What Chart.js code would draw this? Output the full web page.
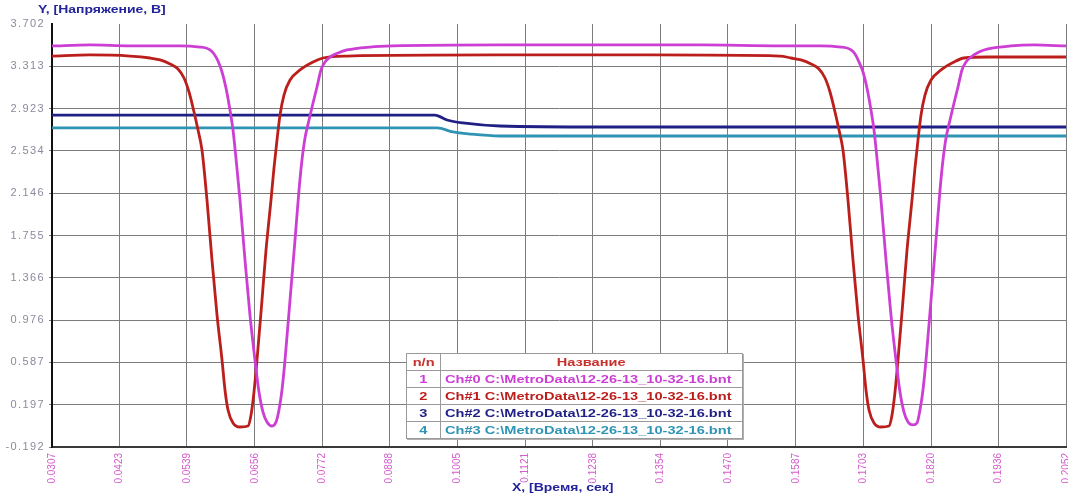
<!DOCTYPE html>
<html>
<head>
<meta charset="utf-8">
<script src="https://cdn.jsdelivr.net/npm/chart.js@4"></script>
<style>
    html, body { margin: 0; padding: 0; background: #fff; }
    #wrap { position: relative; width: 1068px; height: 497px; overflow: hidden; }
    #chart { position: absolute; left: 0; top: 0; }
    .axis-title {
        position: absolute;
        font: bold 11px "Liberation Sans", Arial, sans-serif;
        color: #23239a;
        white-space: nowrap;
        transform: scaleX(1.27);
        transform-origin: left center;
    }
    #legend {
        position: absolute; left: 406px; top: 353px; width: 337px;
        border-collapse: collapse; background: #fff;
        font: bold 11.5px "Liberation Sans", Arial, sans-serif;
        box-shadow: 1px 1px 0 #b0b0b0;
    }
    #legend td { border: 1px solid #9a9a9a; height: 16px; padding: 0; line-height: 16px; white-space: nowrap; }
    #legend td.num { width: 33px; text-align: center; }
    #legend td.name { padding-left: 4px; }
    #legend td.head { text-align: center; }
    #legend span { display: inline-block; transform: scaleX(1.27); }
    #legend td.name span { transform-origin: left center; }
</style>
</head>
<body>
<div id="wrap">
    <canvas id="chart" width="1068" height="497"></canvas>
    <div class="axis-title" style="left:38px; top:3px;">Y, [Напряжение, В]</div>
    <div class="axis-title" style="left:512px; top:481px;">X, [Время, сек]</div>
    <table id="legend"></table>
</div>
<script>
// tick labels
const xTickLabels = ['0.0307', '0.0423', '0.0539', '0.0656', '0.0772', '0.0888', '0.1005', '0.1121',
    '0.1238', '0.1354', '0.1470', '0.1587', '0.1703', '0.1820', '0.1936', '0.2052'];
const yTickLabels = ['-0.192', '0.197', '0.587', '0.976', '1.366', '1.755', '2.146', '2.534',
    '2.923', '3.313', '3.702'];

const seriesNames = [
    'Ch#0 C:\\MetroData\\12-26-13_10-32-16.bnt',
    'Ch#1 C:\\MetroData\\12-26-13_10-32-16.bnt',
    'Ch#2 C:\\MetroData\\12-26-13_10-32-16.bnt',
    'Ch#3 C:\\MetroData\\12-26-13_10-32-16.bnt'
];
const seriesColors = ['#cc3ed4', '#bb1f1c', '#1f1f86', '#2f94b4'];

// Ch#0 (magenta)
const ch0Time = [0.0307, 0.03724, 0.04412, 0.05273, 0.05617, 0.05720, 0.05789, 0.05858, 0.05927, 0.05996,
    0.06064, 0.06133, 0.06185, 0.06236, 0.06305, 0.06391, 0.06477, 0.06563, 0.06632, 0.06701,
    0.06770, 0.06856, 0.06925, 0.06976, 0.07028, 0.07080, 0.07166, 0.07252, 0.07321, 0.07372,
    0.07424, 0.07493, 0.07562, 0.07630, 0.07699, 0.07768, 0.07854, 0.07992, 0.08147, 0.08543,
    0.08938, 0.1078, 0.1250, 0.1422, 0.1560, 0.16304, 0.16648, 0.16751, 0.16820, 0.16889,
    0.16958, 0.17027, 0.17095, 0.17164, 0.17216, 0.17267, 0.17336, 0.17422, 0.17508, 0.17594,
    0.17663, 0.17732, 0.17801, 0.17887, 0.17956, 0.18007, 0.18059, 0.18111, 0.18197, 0.18283,
    0.18352, 0.18403, 0.18455, 0.18524, 0.18593, 0.18661, 0.18730, 0.18799, 0.18885, 0.19023,
    0.19178, 0.19574, 0.19969, 0.2052];
const ch0Volt = [3.500, 3.509, 3.500, 3.500, 3.490, 3.481, 3.463, 3.426, 3.361, 3.260,
    3.113, 2.910, 2.726, 2.468, 2.082, 1.530, 1.023, 0.609, 0.314, 0.130,
    0.038, 0.001, 0.038, 0.149, 0.333, 0.609, 1.161, 1.714, 2.174, 2.450,
    2.653, 2.818, 2.975, 3.122, 3.279, 3.352, 3.398, 3.435, 3.463, 3.490,
    3.500, 3.509, 3.509, 3.509, 3.500, 3.500, 3.490, 3.481, 3.463, 3.426,
    3.352, 3.260, 3.113, 2.910, 2.726, 2.468, 2.082, 1.530, 1.023, 0.609,
    0.314, 0.130, 0.038, 0.011, 0.029, 0.149, 0.333, 0.609, 1.161, 1.714,
    2.174, 2.450, 2.653, 2.818, 2.975, 3.122, 3.279, 3.352, 3.398, 3.444,
    3.472, 3.500, 3.509, 3.500];

// Ch#1 (red)
const ch1Time = [0.0307, 0.03724, 0.04412, 0.04757, 0.04929, 0.05101, 0.05238, 0.05342, 0.05428, 0.05514,
    0.05583, 0.05651, 0.05737, 0.05823, 0.05910, 0.05996, 0.06047, 0.06099, 0.06185, 0.06305,
    0.06443, 0.06495, 0.06546, 0.06598, 0.06684, 0.06753, 0.06839, 0.06890, 0.06942, 0.06994,
    0.07062, 0.07166, 0.07338, 0.07562, 0.07734, 0.08147, 0.1078, 0.1336, 0.1560, 0.15788,
    0.15960, 0.16132, 0.16269, 0.16373, 0.16459, 0.16545, 0.16614, 0.16682, 0.16768, 0.16854,
    0.16941, 0.17027, 0.17078, 0.17130, 0.17216, 0.17336, 0.17474, 0.17526, 0.17577, 0.17629,
    0.17715, 0.17784, 0.17870, 0.17921, 0.17973, 0.18025, 0.18093, 0.18197, 0.18369, 0.18593,
    0.18765, 0.19178, 0.2052];
const ch1Volt = [3.407, 3.417, 3.407, 3.389, 3.371, 3.334, 3.288, 3.205, 3.076, 2.892,
    2.726, 2.542, 2.082, 1.530, 1.023, 0.609, 0.333, 0.149, 0.029, -0.008,
    0.001, 0.103, 0.314, 0.609, 1.161, 1.621, 2.082, 2.376, 2.634, 2.864,
    3.048, 3.186, 3.279, 3.352, 3.389, 3.407, 3.417, 3.417, 3.407, 3.389,
    3.371, 3.334, 3.288, 3.205, 3.076, 2.892, 2.726, 2.542, 2.082, 1.530,
    1.023, 0.609, 0.333, 0.149, 0.029, -0.008, 0.001, 0.103, 0.314, 0.609,
    1.161, 1.621, 2.082, 2.376, 2.634, 2.864, 3.048, 3.186, 3.279, 3.352,
    3.389, 3.398, 3.398];

// Ch#2 (dark blue)
const ch2Time = [0.0307, 0.0562, 0.0815, 0.0966, 0.0987, 0.1014, 0.1078, 0.1250, 0.1594, 0.2052];
const ch2Volt = [2.864, 2.864, 2.864, 2.864, 2.818, 2.791, 2.763, 2.754, 2.754, 2.754];

// Ch#3 (cyan)
const ch3Time = [0.0307, 0.0815, 0.0970, 0.0997, 0.1026, 0.1078, 0.1594, 0.2052];
const ch3Volt = [2.745, 2.745, 2.745, 2.708, 2.689, 2.671, 2.671, 2.671];

const allTimes = [ch0Time, ch1Time, ch2Time, ch3Time];
const allVolts = [ch0Volt, ch1Volt, ch2Volt, ch3Volt];

// legend table
const legend = document.getElementById('legend');
let rows = '<tr><td class="num head" style="color:#c8302c"><span>n/n</span></td>' +
    '<td class="head" style="color:#c8302c"><span>Название</span></td></tr>';
seriesNames.forEach((name, i) => {
    rows += `<tr><td class="num" style="color:${seriesColors[i]}"><span>${i + 1}</span></td>` +
        `<td class="name" style="color:${seriesColors[i]}"><span>${name}</span></td></tr>`;
});
legend.innerHTML = rows;

const datasets = seriesNames.map((name, i) => ({
    label: name,
    data: allTimes[i].map((t, j) => ({ x: t, y: allVolts[i][j] })),
    borderColor: seriesColors[i],
    borderWidth: 2.8,
    pointRadius: 0,
    cubicInterpolationMode: 'monotone',
    fill: false,
    order: i
}));

// y labels look horizontally stretched in the picture
const stretchLabels = {
    id: 'stretchLabels',
    afterDatasetsDraw(chart) { chart.ctx.letterSpacing = '1.4px'; },
    afterDraw(chart) { chart.ctx.letterSpacing = '0px'; }
};

new Chart(document.getElementById('chart'), {
    type: 'line',
    data: { datasets },
    plugins: [stretchLabels],
    options: {
        responsive: false,
        animation: false,
        layout: { padding: { top: 24, right: 2, left: 0, bottom: 0 } },
        plugins: {
            legend: { display: false },
            tooltip: { enabled: false }
        },
        scales: {
            x: {
                type: 'linear',
                min: parseFloat(xTickLabels[0]),
                max: parseFloat(xTickLabels[xTickLabels.length - 1]),
                afterBuildTicks: (scale) => {
                    scale.ticks = xTickLabels.map(l => ({ value: parseFloat(l) }));
                },
                afterFit: (scale) => {
                    scale.height = 50;
                    scale.paddingLeft = 0;
                    scale.paddingRight = 0;
                },
                ticks: {
                    autoSkip: false,
                    minRotation: 90,
                    maxRotation: 90,
                    padding: 6,
                    color: '#d45ccc',
                    font: { family: '"Liberation Sans", Arial, sans-serif', size: 10 },
                    callback: (v, i) => xTickLabels[i]
                },
                grid: { color: '#7c7c7c', lineWidth: 1, drawTicks: false },
                border: { color: '#3a3a3a', width: 2 }
            },
            y: {
                min: parseFloat(yTickLabels[0]),
                max: parseFloat(yTickLabels[yTickLabels.length - 1]),
                afterBuildTicks: (scale) => {
                    scale.ticks = yTickLabels.map(l => ({ value: parseFloat(l) }));
                },
                afterFit: (scale) => {
                    scale.width = 52;
                    scale.paddingTop = 0;
                    scale.paddingBottom = 0;
                },
                ticks: {
                    autoSkip: false,
                    padding: 4,
                    z: 1,
                    color: '#8e889e',
                    font: { family: '"Liberation Sans", Arial, sans-serif', size: 11 },
                    callback: (v, i) => yTickLabels[i]
                },
                grid: {
                    color: (ctx) => ctx.index === yTickLabels.length - 1 ? 'rgba(0,0,0,0)' : '#7c7c7c',
                    lineWidth: 1,
                    tickLength: 3
                },
                border: { color: '#111', width: 2 }
            }
        }
    }
});
</script>
</body>
</html>
